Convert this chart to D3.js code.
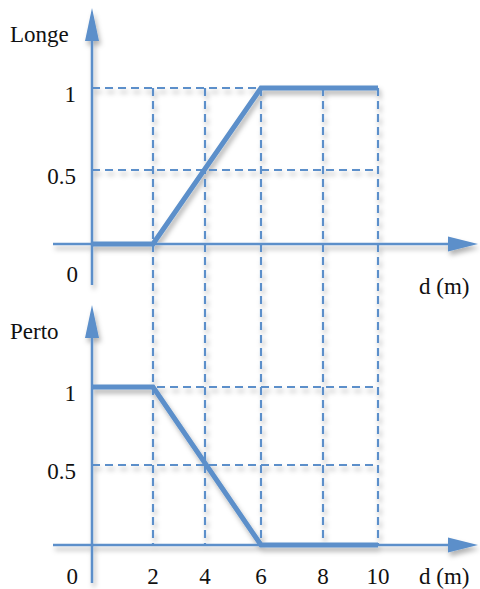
<!DOCTYPE html>
<html>
<head>
<meta charset="utf-8">
<script src="https://cdn.jsdelivr.net/npm/d3@7"></script>
<style>
  body { margin: 0; background: #fff; }
  svg { display: block; }
</style>
</head>
<body>
<svg id="chart" width="480" height="589"></svg>
<script>
const xTicks = [2, 4, 6, 8, 10]
const yTicks = [0.5, 1]
const longeD = [0, 2, 6, 10]
const longeMu = [0, 0, 1, 1]
const pertoD = [0, 2, 6, 10]
const pertoMu = [1, 1, 0, 0]

const blue = "#5b8fca"
const font = "'Liberation Serif', 'DejaVu Serif', 'Times New Roman', serif"
const svg = d3.select("#chart")

const defs = svg.append("defs")
const shadow = defs.append("filter").attr("id", "shadow").attr("x", "-20%").attr("y", "-20%").attr("width", "140%").attr("height", "140%")
shadow.append("feDropShadow").attr("dx", 2).attr("dy", 4).attr("stdDeviation", 2.5).attr("flood-color", "#000").attr("flood-opacity", 0.3)

// the drawing is not quite evenly spaced, so piecewise scales
const x = d3.scaleLinear().domain([0, 2, 4, 6, 8, 10]).range([92, 153, 205, 261, 323, 378])

const panels = [
  { name: "Longe", d: longeD, mu: longeMu, y: d3.scaleLinear().domain([0, 0.5, 1]).range([244, 170, 88]), top: 8, bottom: 285 },
  { name: "Perto", d: pertoD, mu: pertoMu, y: d3.scaleLinear().domain([0, 0.5, 1]).range([545, 465, 387]), top: 305, bottom: 583 },
]

const g = svg.append("g").attr("filter", "url(#shadow)")

function label(txt, px, py, anchor) {
  return svg
    .append("text")
    .attr("x", px)
    .attr("y", py)
    .attr("text-anchor", anchor || "start")
    .attr("font-family", font)
    .attr("font-size", 23)
    .attr("fill", "#111")
    .text(txt)
}

// vertical dashed lines run through both panels
g.selectAll(".vgrid")
  .data(xTicks)
  .enter()
  .append("line")
  .attr("x1", (d) => x(d))
  .attr("x2", (d) => x(d))
  .attr("y1", panels[0].y(1))
  .attr("y2", panels[1].y(0))
  .attr("stroke", blue)
  .attr("stroke-width", 2.2)
  .attr("stroke-dasharray", "8,5")

panels.forEach((p) => {
  const y0 = p.y(0)

  g.selectAll(null)
    .data(yTicks)
    .enter()
    .append("line")
    .attr("x1", x(0))
    .attr("x2", x(10))
    .attr("y1", (d) => p.y(d))
    .attr("y2", (d) => p.y(d))
    .attr("stroke", blue)
    .attr("stroke-width", 2.2)
    .attr("stroke-dasharray", "8,5")

  // x axis with arrow
  g.append("line").attr("x1", 53).attr("x2", 450).attr("y1", y0).attr("y2", y0).attr("stroke", blue).attr("stroke-width", 2.5)
  g.append("path")
    .attr("d", `M448,${y0 - 7.5}L478,${y0}L448,${y0 + 7.5}Z`)
    .attr("fill", blue)

  // y axis with arrow
  g.append("line").attr("x1", x(0)).attr("x2", x(0)).attr("y1", p.top + 30).attr("y2", p.bottom).attr("stroke", blue).attr("stroke-width", 2.5)
  g.append("path")
    .attr("d", `M${x(0) - 7},${p.top + 33}L${x(0)},${p.top}L${x(0) + 7},${p.top + 33}Z`)
    .attr("fill", blue)

  const line = d3
    .line()
    .x((d, i) => x(p.d[i]))
    .y((d) => p.y(d))
  g.append("path")
    .attr("d", line(p.mu))
    .attr("fill", "none")
    .attr("stroke", blue)
    .attr("stroke-width", 5)

  // labels
  label(p.name, 10, p.top + 34)
  yTicks.forEach((t) => label(t, 76, p.y(t) + 14, "end"))
  label("0", 78, p.name === "Longe" ? p.bottom - 3 : 584, "end")
  label("d (m)", 419, p.name === "Longe" ? y0 + 50 : 584)
})

xTicks.forEach((t) => label(t, x(t), 584, "middle"))
</script>
</body>
</html>
